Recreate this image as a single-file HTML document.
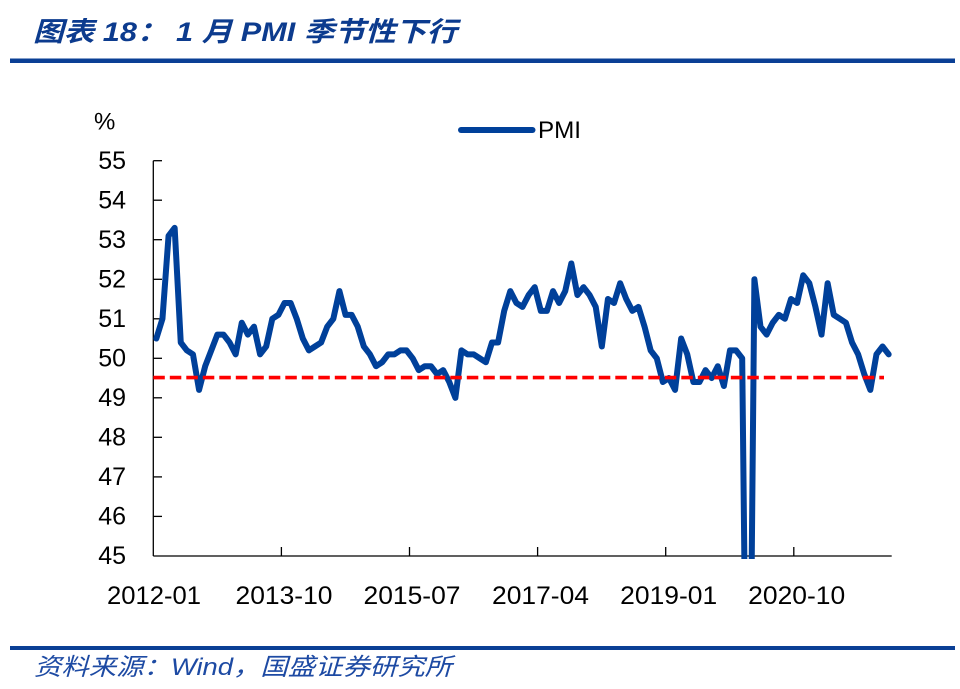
<!DOCTYPE html>
<html>
<head>
<meta charset="utf-8">
<style>
  html,body{margin:0;padding:0;background:#fff;width:960px;height:689px;overflow:hidden;}
  svg{display:block;}
  text{font-family:"Liberation Sans","Noto Sans CJK SC",sans-serif;}
</style>
</head>
<body>
<svg width="960" height="689" viewBox="0 0 960 689" xmlns="http://www.w3.org/2000/svg">
  <defs>
    <clipPath id="plot" clipPathUnits="userSpaceOnUse">
      <rect x="150" y="140" width="750" height="419"/>
    </clipPath>
  </defs>

  <!-- Title -->
  <text x="33" y="41" font-size="27" font-weight="bold" font-style="italic" fill="#0c3b8e" textLength="424" lengthAdjust="spacingAndGlyphs">图表 18： 1 月 PMI 季节性下行</text>
  <rect x="10" y="58.5" width="945" height="4.5" fill="#0a3f95"/>

  <!-- % unit -->
  <text x="94" y="129.5" font-size="24" fill="#000">%</text>

  <!-- Legend -->
  <line x1="461" y1="130" x2="532.5" y2="130" stroke="#00409a" stroke-width="6" stroke-linecap="round"/>
  <text x="538" y="138" font-size="24" fill="#000" textLength="43" lengthAdjust="spacingAndGlyphs">PMI</text>

  <!-- Y axis labels -->
  <g font-size="25" fill="#000" text-anchor="end">
    <text x="126" y="168.8">55</text>
    <text x="126" y="208.3">54</text>
    <text x="126" y="247.9">53</text>
    <text x="126" y="287.4">52</text>
    <text x="126" y="326.9">51</text>
    <text x="126" y="366.4">50</text>
    <text x="126" y="405.9">49</text>
    <text x="126" y="445.5">48</text>
    <text x="126" y="485.0">47</text>
    <text x="126" y="524.5">46</text>
    <text x="126" y="564.0">45</text>
  </g>

  <!-- Axes -->
  <g stroke="#000" stroke-width="1.3" fill="none">
    <line x1="153.3" y1="160.7" x2="153.3" y2="556"/>
    <line x1="153.3" y1="556" x2="891.7" y2="556"/>
    <line x1="153.3" y1="160.7" x2="162" y2="160.7"/>
    <line x1="153.3" y1="200.2" x2="162" y2="200.2"/>
    <line x1="153.3" y1="239.7" x2="162" y2="239.7"/>
    <line x1="153.3" y1="279.3" x2="162" y2="279.3"/>
    <line x1="153.3" y1="318.8" x2="162" y2="318.8"/>
    <line x1="153.3" y1="358.3" x2="162" y2="358.3"/>
    <line x1="153.3" y1="397.8" x2="162" y2="397.8"/>
    <line x1="153.3" y1="437.3" x2="162" y2="437.3"/>
    <line x1="153.3" y1="476.9" x2="162" y2="476.9"/>
    <line x1="153.3" y1="516.4" x2="162" y2="516.4"/>
    <line x1="281.4" y1="556" x2="281.4" y2="547"/>
    <line x1="409.5" y1="556" x2="409.5" y2="547"/>
    <line x1="537.6" y1="556" x2="537.6" y2="547"/>
    <line x1="665.7" y1="556" x2="665.7" y2="547"/>
    <line x1="793.8" y1="556" x2="793.8" y2="547"/>
  </g>

  <!-- X axis labels -->
  <g font-size="25" fill="#000" text-anchor="middle">
    <text x="154" y="604" textLength="94" lengthAdjust="spacingAndGlyphs">2012-01</text>
    <text x="284" y="604" textLength="97" lengthAdjust="spacingAndGlyphs">2013-10</text>
    <text x="412" y="604" textLength="97" lengthAdjust="spacingAndGlyphs">2015-07</text>
    <text x="540.5" y="604" textLength="97" lengthAdjust="spacingAndGlyphs">2017-04</text>
    <text x="668.7" y="604" textLength="97" lengthAdjust="spacingAndGlyphs">2019-01</text>
    <text x="796.7" y="604" textLength="97" lengthAdjust="spacingAndGlyphs">2020-10</text>
  </g>

  <!-- PMI series -->
  <g clip-path="url(#plot)">
    <g transform="translate(156.35,2334.3) scale(6.1025,-39.52)">
      <polyline fill="none" stroke="#00409a" stroke-width="6" stroke-linejoin="round" stroke-linecap="round" vector-effect="non-scaling-stroke"
        points="0,50.5 1,51.0 2,53.1 3,53.3 4,50.4 5,50.2 6,50.1 7,49.2 8,49.8 9,50.2 10,50.6 11,50.6
12,50.4 13,50.1 14,50.9 15,50.6 16,50.8 17,50.1 18,50.3 19,51.0 20,51.1 21,51.4 22,51.4 23,51.0
24,50.5 25,50.2 26,50.3 27,50.4 28,50.8 29,51.0 30,51.7 31,51.1 32,51.1 33,50.8 34,50.3 35,50.1
36,49.8 37,49.9 38,50.1 39,50.1 40,50.2 41,50.2 42,50.0 43,49.7 44,49.8 45,49.8 46,49.6 47,49.7
48,49.4 49,49.0 50,50.2 51,50.1 52,50.1 53,50.0 54,49.9 55,50.4 56,50.4 57,51.2 58,51.7 59,51.4
60,51.3 61,51.6 62,51.8 63,51.2 64,51.2 65,51.7 66,51.4 67,51.7 68,52.4 69,51.6 70,51.8 71,51.6
72,51.3 73,50.3 74,51.5 75,51.4 76,51.9 77,51.5 78,51.2 79,51.3 80,50.8 81,50.2 82,50.0 83,49.4
84,49.5 85,49.2 86,50.5 87,50.1 88,49.4 89,49.4 90,49.7 91,49.5 92,49.8 93,49.3 94,50.2 95,50.2
96,50.0 96.364,44.8 97.558,44.8 98,52.0 99,50.8 100,50.6 101,50.9 102,51.1 103,51.0 104,51.5 105,51.4 106,52.1 107,51.9
108,51.3 109,50.6 110,51.9 111,51.1 112,51.0 113,50.9 114,50.4 115,50.1 116,49.6 117,49.2 118,50.1 119,50.3
120,50.1"/>
    </g>
  </g>

  <!-- 49.5 reference dashed line -->
  <line x1="153.3" y1="377.6" x2="884" y2="377.6" stroke="#ff0000" stroke-width="3.6" stroke-dasharray="11.5 5"/>

  <!-- Footer -->
  <rect x="10" y="646" width="945" height="4" fill="#0a3f95"/>
  <text x="34" y="675" font-size="24" font-style="italic" fill="#1d4aa3" textLength="418" lengthAdjust="spacingAndGlyphs">资料来源：Wind，国盛证券研究所</text>
</svg>
</body>
</html>
